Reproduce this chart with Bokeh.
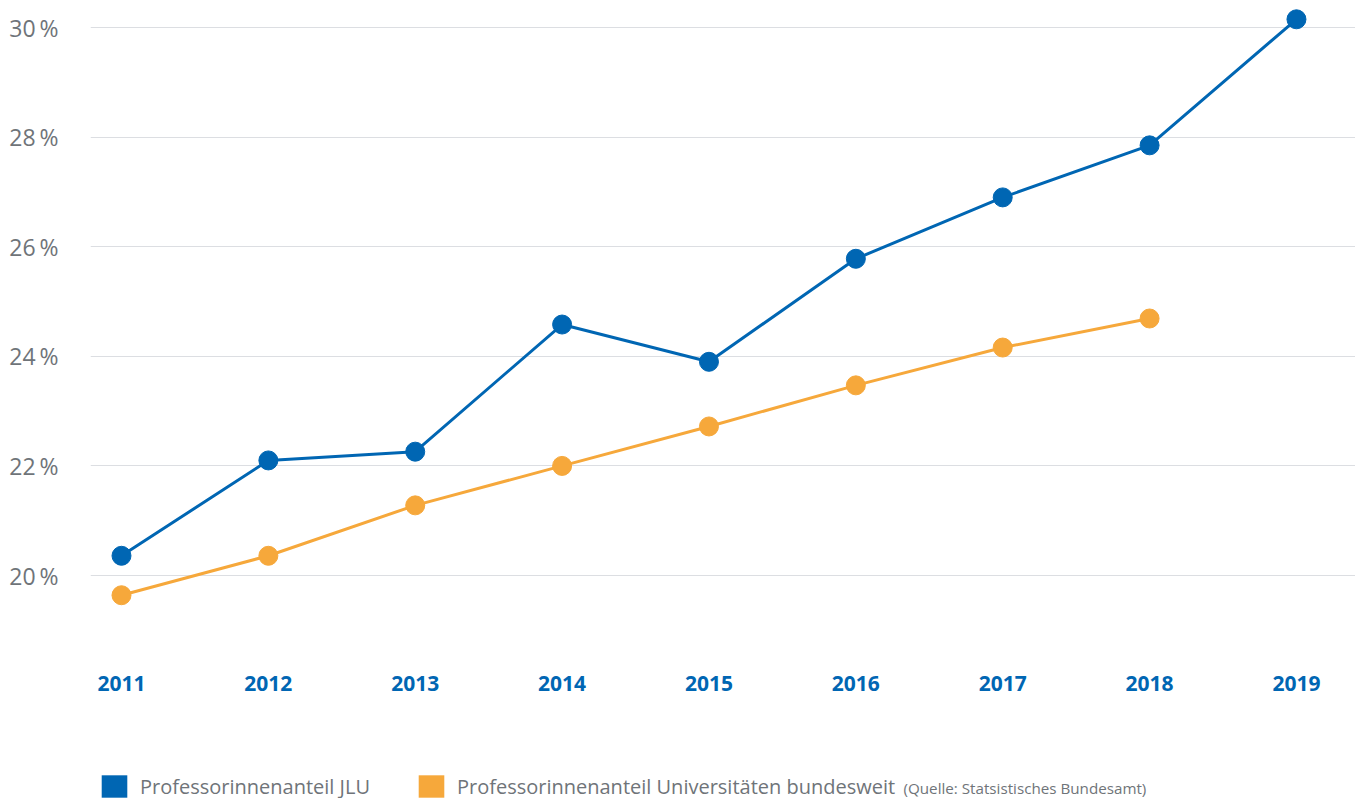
from bokeh.plotting import figure
from bokeh.layouts import column
from bokeh.models import Range1d, FixedTicker, Legend, LegendItem, Label
from bokeh.embed import file_html
from bokeh.resources import INLINE

years = [2011, 2012, 2013, 2014, 2015, 2016, 2017, 2018, 2019]
x_labels = ["2011", "2012", "2013", "2014", "2015", "2016", "2017", "2018", "2019"]
jlu = [20.36, 22.1, 22.26, 24.58, 23.9, 25.78, 26.9, 27.85, 30.15]
bund_years = [2011, 2012, 2013, 2014, 2015, 2016, 2017, 2018]
bund = [19.64, 20.36, 21.28, 22.0, 22.72, 23.47, 24.16, 24.69]
y_ticks = [20, 22, 24, 26, 28, 30]
y_tick_labels = ["20\u2009%", "22\u2009%", "24\u2009%", "26\u2009%", "28\u2009%", "30\u2009%"]
legend_labels = ["Professorinnenanteil JLU", "Professorinnenanteil Universitäten bundesweit"]
source_note = "(Quelle: Statsistisches Bundesamt)"

BLUE = "#0066b3"
ORANGE = "#f6a83b"
GRAY = "#6f7479"
FONT = "Open Sans"

p = figure(width=1355, height=750, output_backend="svg", toolbar_location=None,
           x_range=Range1d(2010.789, 2019.402), y_range=Range1d(18.814, 30.347),
           min_border_left=90, min_border_right=0, min_border_top=8, min_border_bottom=110)
p.outline_line_color = None
p.background_fill_color = "white"
p.border_fill_color = "white"

p.xgrid.grid_line_color = None
p.ygrid.grid_line_color = "#dcdee2"
p.ygrid.grid_line_width = 1
p.ygrid.ticker = FixedTicker(ticks=y_ticks)

p.yaxis.ticker = FixedTicker(ticks=y_ticks)
p.yaxis.major_label_overrides = {t: l for t, l in zip(y_ticks, y_tick_labels)}
p.yaxis.axis_line_color = None
p.yaxis.major_tick_line_color = None
p.yaxis.minor_tick_line_color = None
p.yaxis.major_tick_out = 0
p.yaxis.major_tick_in = 0
p.yaxis.major_label_standoff = 32
p.yaxis.major_label_text_font = FONT
p.yaxis.major_label_text_font_size = "23px"
p.yaxis.major_label_text_color = GRAY

p.xaxis.ticker = FixedTicker(ticks=years)
p.xaxis.major_label_overrides = {y: l for y, l in zip(years, x_labels)}
p.xaxis.axis_line_color = None
p.xaxis.major_tick_line_color = None
p.xaxis.minor_tick_line_color = None
p.xaxis.major_tick_out = 0
p.xaxis.major_tick_in = 0
p.xaxis.major_label_standoff = 35
p.xaxis.major_label_text_font = FONT
p.xaxis.major_label_text_font_style = "bold"
p.xaxis.major_label_text_font_size = "21px"
p.xaxis.major_label_text_color = BLUE

p.line(bund_years, bund, line_width=3, color=ORANGE)
p.scatter(bund_years, bund, size=19, color=ORANGE)
p.line(years, jlu, line_width=3, color=BLUE)
p.scatter(years, jlu, size=19, color=BLUE)

# legend strip (frame is aligned with the chart frame above)
q = figure(width=1355, height=48, output_backend="svg", toolbar_location=None,
           x_range=Range1d(0, 1), y_range=Range1d(0, 1),
           min_border_left=0, min_border_right=0, min_border_top=0, min_border_bottom=0)
q.outline_line_color = None
q.axis.visible = False
q.grid.visible = False
q.border_fill_color = "white"

# swatch renderers, kept outside the visible range so only legend swatches show
r1 = q.quad(left=[5], right=[6], top=[6], bottom=[5], fill_color=BLUE, line_color=None)
r2 = q.quad(left=[5], right=[6], top=[6], bottom=[5], fill_color=ORANGE, line_color=None)

legend = Legend(items=[LegendItem(label=legend_labels[0], renderers=[r1]),
                       LegendItem(label=legend_labels[1], renderers=[r2])],
                location=(8, -2), orientation="horizontal",
                glyph_width=32, glyph_height=28, label_standoff=10, spacing=45,
                padding=0, margin=0, border_line_alpha=0, background_fill_alpha=0,
                label_text_font=FONT, label_text_font_size="20px",
                label_text_color=GRAY, label_height=28)
q.add_layout(legend)

note = Label(x=813, y=11, x_units="screen", y_units="screen", text=source_note,
             text_font=FONT, text_font_size="15.2px", text_color=GRAY,
             text_baseline="middle")
q.add_layout(note)

layout = column(p, q, spacing=0)
open("out.html", "w").write(file_html(layout, INLINE))
